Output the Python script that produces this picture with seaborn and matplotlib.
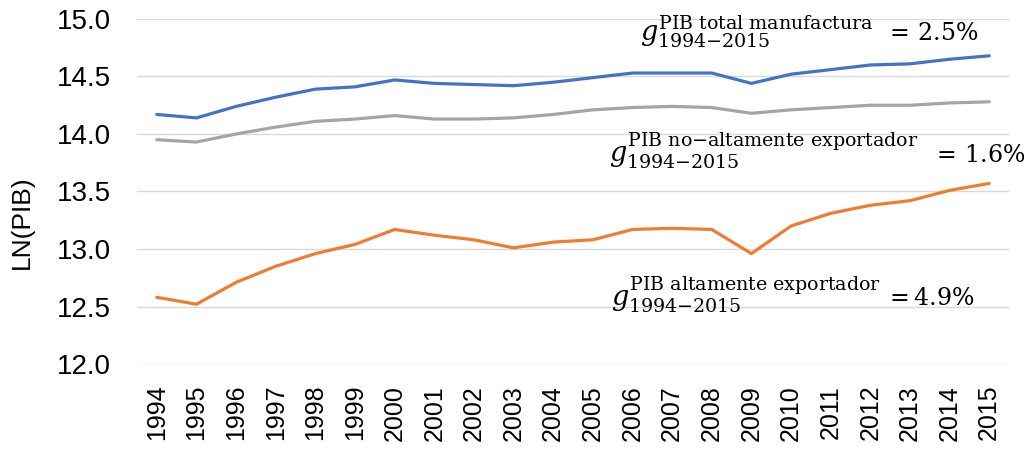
import numpy as np
import pandas as pd
import matplotlib
matplotlib.use('Agg')
import matplotlib.pyplot as plt
import seaborn as sns

# datos
years = list(range(1994, 2016))
pib_total = [14.17, 14.14, 14.24, 14.32, 14.39, 14.41, 14.47, 14.44, 14.43, 14.42, 14.45,
             14.49, 14.53, 14.53, 14.53, 14.44, 14.52, 14.56, 14.60, 14.61, 14.65, 14.68]
pib_no_export = [13.95, 13.93, 14.00, 14.06, 14.11, 14.13, 14.16, 14.13, 14.13, 14.14, 14.17,
                 14.21, 14.23, 14.24, 14.23, 14.18, 14.21, 14.23, 14.25, 14.25, 14.27, 14.28]
pib_export = [12.58, 12.52, 12.71, 12.85, 12.96, 13.04, 13.17, 13.12, 13.08, 13.01, 13.06,
              13.08, 13.17, 13.18, 13.17, 12.96, 13.20, 13.31, 13.38, 13.42, 13.51, 13.57]
series_names = ['total', 'no_export', 'export']
series_colors = ['#4472C4', '#A5A5A5', '#ED7D31']
y_ticks = [12.0, 12.5, 13.0, 13.5, 14.0, 14.5, 15.0]

df = pd.DataFrame({'year': years * 3,
                   'ln_pib': pib_total + pib_no_export + pib_export,
                   'serie': [s for s in series_names for _ in years]})

sns.set_style("white")
plt.rcParams['font.family'] = ['Liberation Sans', 'DejaVu Sans']

fig = plt.figure(figsize=(10.24, 4.49), dpi=100)
ax = fig.add_axes([0.1338, 0.1893, 0.8516, 0.7684])

sns.lineplot(data=df, x='year', y='ln_pib', hue='serie', hue_order=series_names,
             palette=series_colors, linewidth=2.3, legend=False, ax=ax)

ax.set_xlim(years[0] - 0.5, years[-1] + 0.5)
ax.set_ylim(12.0, 15.0)
ax.set_yticks(y_ticks)
ax.set_yticklabels(['%.1f' % v for v in y_ticks])
ax.set_xticks(years)
ax.set_xticklabels([str(y) for y in years], rotation=90)
ax.tick_params(axis='y', length=0, pad=19, labelsize=20, labelcolor='black')
ax.tick_params(axis='x', length=0, pad=15, labelsize=18, labelcolor='black')
ax.grid(axis='y', color='#D9D9D9', linewidth=1.0)
ax.set_axisbelow(True)
for s in ax.spines.values():
    s.set_visible(False)

ax.set_xlabel('')
ax.set_ylabel('LN(PIB)', fontsize=19, color='black')
ax.yaxis.set_label_coords(-0.118, 0.41)

# anotaciones de tasas de crecimiento
g_kw = dict(fontsize=19.5, ha='left', va='baseline', color='black', clip_on=False,
            math_fontfamily='dejavuserif')
eq_kw = dict(g_kw, fontsize=17)
ax.text(2006.2, 14.817, r'$g_{1994{-}2015}^{\mathrm{PIB\ total\ manufactura}}$', **g_kw)
ax.text(2012.37, 14.817, r'$=\,2.5\%$', **eq_kw)
ax.text(2005.4, 13.757, r'$g_{1994{-}2015}^{\mathrm{PIB\ no{-}altamente\ exportador}}$', **g_kw)
ax.text(2013.55, 13.757, r'$=\,1.6\%$', **eq_kw)
ax.text(2005.45, 12.513, r'$g_{1994{-}2015}^{\mathrm{PIB\ altamente\ exportador}}$', **g_kw)
ax.text(2012.37, 12.513, r'$=4.9\%$', **eq_kw)

plt.savefig('out.png', dpi=100)
